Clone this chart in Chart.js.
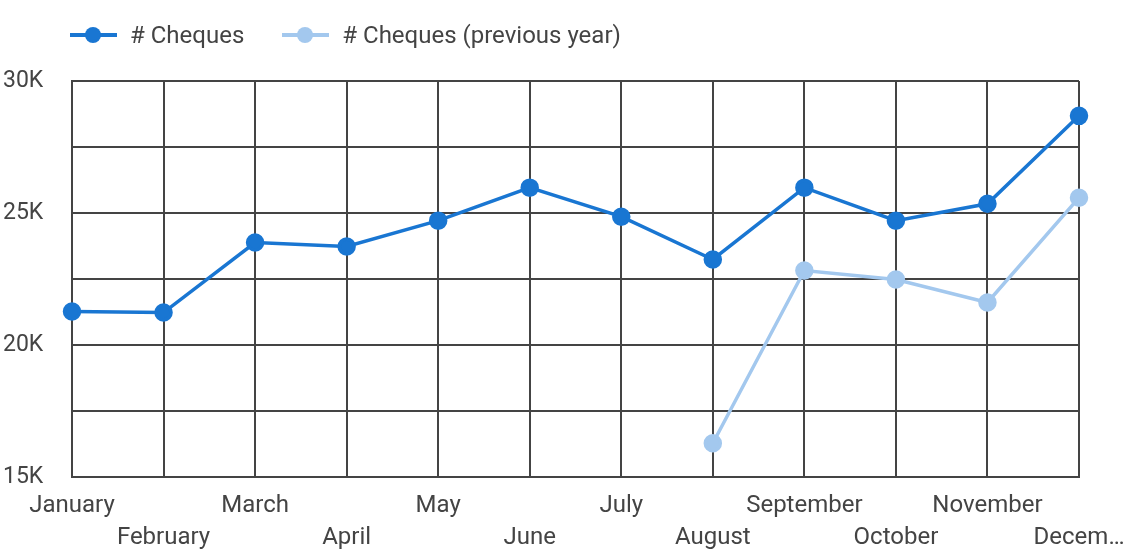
<!DOCTYPE html>
<html>
<head>
<meta charset="utf-8">
<script src="https://cdn.jsdelivr.net/npm/chart.js@4"></script>
<style>
    html, body { margin: 0; padding: 0; background: #fff; }
    .wrap { position: relative; width: 1127px; height: 549px; }
    #legend {
        position: absolute; left: 70px; top: 20px;
        display: flex; align-items: center;
        font-family: Roboto, sans-serif; font-size: 24px; color: #444;
    }
    .legend-item { display: flex; align-items: center; margin-right: 38px; }
    .legend-mark { position: relative; width: 47px; height: 30px; margin-right: 13px; }
    .legend-mark .ln { position: absolute; left: 0; right: 0; top: 13px; height: 4px; }
    .legend-mark .pt { position: absolute; left: 15px; top: 7px; width: 16px; height: 16px; border-radius: 50%; }
</style>
</head>
<body>
<div class="wrap">
    <canvas id="chequesChart" width="1127" height="549"></canvas>
    <div id="legend"></div>
</div>
<script>
const months = ["January", "February", "March", "April", "May", "June",
    "July", "August", "September", "October", "November", "Decem\u2026"];

const cheques = [21270, 21230, 23880, 23730, 24710, 25960, 24860, 23240, 25960, 24710, 25350, 28680];
const chequesPrevYear = [null, null, null, null, null, null, null, 16280, 22820, 22480, 21610, 25580];

const yMin = 15000;
const yMax = 30000;
const yStep = 2500;

const seriesNames = ["# Cheques", "# Cheques (previous year)"];
const seriesColors = ["#1976d2", "#a3c8ee"];

// stagger month labels on two rows
const xLabels = months.map((m, i) => i % 2 === 0 ? [m, ""] : ["", m]);

const gridColor = "#444444";

const chart = new Chart(document.getElementById("chequesChart"), {
    type: "line",
    data: {
        labels: xLabels,
        datasets: [
            {
                label: seriesNames[0],
                data: cheques,
                borderColor: seriesColors[0],
                backgroundColor: seriesColors[0],
                borderWidth: 3.5,
                pointRadius: 7.5,
                pointHoverRadius: 7.5,
                tension: 0
            },
            {
                label: seriesNames[1],
                data: chequesPrevYear,
                borderColor: seriesColors[1],
                backgroundColor: seriesColors[1],
                borderWidth: 3.5,
                pointRadius: 7.5,
                pointHoverRadius: 7.5,
                tension: 0
            }
        ]
    },
    options: {
        responsive: false,
        animation: false,
        layout: { padding: { left: 3, right: 48, top: 81, bottom: 0 } },
        plugins: {
            legend: { display: false },
            tooltip: { enabled: false }
        },
        scales: {
            x: {
                offset: false,
                afterFit: (scale) => {
                    scale.height = 72;
                    scale.paddingLeft = 0;
                    scale.paddingRight = 0;
                },
                grid: { color: gridColor, lineWidth: 2, drawTicks: false },
                border: { color: gridColor, width: 2 },
                ticks: {
                    autoSkip: false,
                    maxRotation: 0,
                    minRotation: 0,
                    padding: 13,
                    color: "#444",
                    font: { family: "Roboto", size: 24, lineHeight: 1.333 }
                }
            },
            y: {
                min: yMin,
                max: yMax,
                afterFit: (scale) => { scale.width = 69; },
                grid: { color: gridColor, lineWidth: 2, drawTicks: false },
                border: { color: gridColor, width: 2 },
                ticks: {
                    stepSize: yStep,
                    crossAlign: "far",
                    padding: 8,
                    color: "#444",
                    font: { family: "Roboto", size: 23 },
                    callback: (v) => v % 5000 === 0 ? (v / 1000) + "K" : ""
                }
            }
        }
    }
});

const legend = document.getElementById("legend");
legend.innerHTML = chart.data.datasets.map(ds => `
    <div class="legend-item">
        <span class="legend-mark">
            <span class="ln" style="background:${ds.borderColor}"></span>
            <span class="pt" style="background:${ds.borderColor}"></span>
        </span>
        <span>${ds.label}</span>
    </div>`).join("");
</script>
</body>
</html>
